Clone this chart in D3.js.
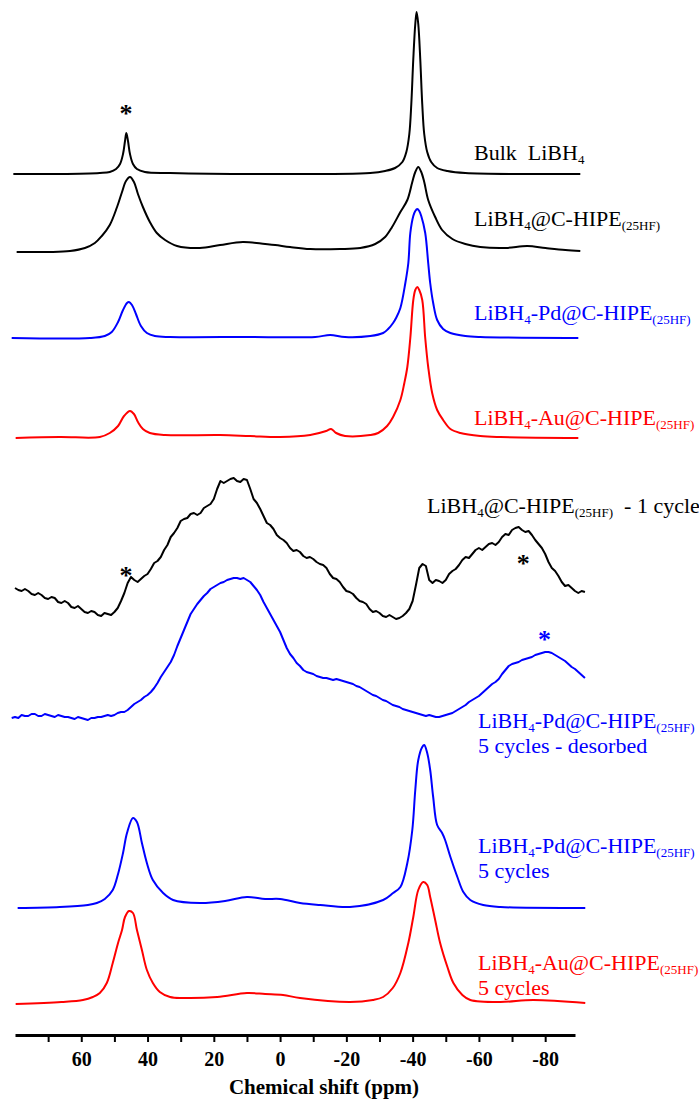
<!DOCTYPE html>
<html><head><meta charset="utf-8">
<script src="https://cdn.jsdelivr.net/npm/d3@7"></script>
<style>
body{margin:0;background:#fff}
svg text{font-family:'Liberation Serif','Times New Roman',Tinos,'DejaVu Serif',serif;}
</style>
</head><body><svg id="c" width="699" height="1103"></svg>
<script>
// ppm, intensity (relative to each trace's baseline, arbitrary units)
const bulkLiBH4 = [[80.5,0],[66.5,0],[54.4,1],[51.4,2],[49.5,5],[48.3,10],[47.4,20],[46.8,33],[46.4,41],[45.9,33],[45.3,20],[44.4,10],[43.2,5],[40.8,2],[33.2,1],[6.0,0],[-27.2,1],[-31.7,3],[-34.7,6],[-36.9,12],[-38.1,22],[-39.0,40],[-39.6,70],[-40.2,115],[-40.8,150],[-41.2,162],[-41.7,150],[-42.3,115],[-42.9,70],[-43.5,40],[-44.4,22],[-45.6,12],[-47.4,6],[-50.5,3],[-55.9,1],[-90.6,0]];
const hipe = [[79.5,0],[69.5,0],[63.4,1],[58.9,4],[55.9,9],[53.8,16],[51.4,27],[49.2,45],[47.7,60],[46.5,71],[45.3,75],[44.1,70],[42.9,58],[41.4,45],[39.3,30],[37.2,19],[34.7,12],[31.1,6],[24.2,4],[18.1,7],[11.2,10],[4.5,8],[1.5,7],[-3.0,5],[-9.1,3],[-18.1,3],[-24.2,4],[-28.7,8],[-31.7,15],[-33.8,25],[-36.3,40],[-38.4,52],[-39.9,70],[-40.8,80],[-41.7,85],[-42.6,80],[-43.5,70],[-44.7,52],[-46.8,35],[-48.9,22],[-52.0,13],[-55.9,8],[-60.4,5],[-68.0,4],[-74.6,6],[-80.1,4],[-86.1,2],[-90.6,1]];
const pdHipe = [[81,0],[57.4,0],[52.9,2],[50.8,6],[48.9,16],[47.4,28],[46.2,35],[45.6,36],[44.7,33],[43.5,24],[42.0,12],[40.2,5],[37.8,2],[33.2,1],[9.1,1],[-10.6,1],[-15.1,3],[-19.6,1],[-27.2,2],[-31.1,5],[-32.6,9],[-34.1,15],[-35.0,20],[-36.3,30],[-37.8,55],[-38.7,75],[-39.3,105],[-40.2,122],[-40.8,127],[-41.4,129],[-42.0,127],[-42.6,122],[-43.8,105],[-44.7,75],[-45.3,55],[-46.2,35],[-47.4,18],[-49.2,9],[-51.4,5],[-55.9,2],[-60.4,1],[-90.0,0]];
const auHipe = [[79.8,0],[66.5,1],[54.4,1],[51.4,5],[48.9,12],[47.1,22],[45.3,27],[44.1,24],[42.9,16],[41.4,9],[39.3,5],[34.7,3],[18.1,3],[9.1,2],[0,1],[-9.1,3],[-13.9,7],[-15.4,9],[-16.9,5],[-19.6,2],[-27.2,3],[-29.6,5],[-32.3,12],[-34.1,21],[-36.3,38],[-37.5,55],[-38.4,71],[-39.3,100],[-40.2,138],[-40.8,148],[-41.4,151],[-42.0,148],[-42.9,138],[-43.8,100],[-44.7,71],[-45.9,45],[-47.4,28],[-49.2,18],[-51.4,9],[-54.4,5],[-60.4,2],[-66.5,1],[-90.0,0]];
const hipe1cycle = [[80,32],[79,30],[78,29],[77,31],[76,29],[75,26],[74,25],[73,27],[72,25],[71,22],[70,21],[69,23],[68,22],[67,18],[66,17],[65,19],[64,17],[63,13],[62,12],[61,14],[60,11],[59,8],[58,7],[57,9],[56,8],[55,5],[54,4],[53,7],[52,6],[51,5],[50,8],[49,12],[48,19],[47,27],[46,37],[45,43],[44,40],[43,38],[42,41],[41,44],[40,46],[39,51],[38,57],[37,59],[36,63],[35,70],[34,75],[33,83],[32,87],[31,92],[30,99],[29,101],[28,102],[27,106],[26,107],[25,105],[24,107],[23,112],[22,114],[21,116],[20,121],[19,131],[18,139],[17,137],[16,139],[15,141],[14,142],[13,139],[12,138],[11,141],[10,140],[9,131],[8,121],[7,117],[6,111],[5,104],[4,97],[3,95],[2,91],[1,85],[0,82],[-1,80],[-2,77],[-3,72],[-4,69],[-5,70],[-6,68],[-7,64],[-8,62],[-9,63],[-10,61],[-11,58],[-12,56],[-13,55],[-14,52],[-15,46],[-16,42],[-17,41],[-18,38],[-19,33],[-20,29],[-21,28],[-22,26],[-23,22],[-24,19],[-25,18],[-26,16],[-27,11],[-28,8],[-29,9],[-30,7],[-31,4],[-32,3],[-33,5],[-34,3],[-35,1],[-36,2],[-37,4],[-38,7],[-39,11],[-40,19],[-41,35],[-42,52],[-43,56],[-44,54],[-45,40],[-46,37],[-47,40],[-48,39],[-49,37],[-50,40],[-51,46],[-52,49],[-53,51],[-54,55],[-55,60],[-56,63],[-57,62],[-58,66],[-59,70],[-60,72],[-61,70],[-62,73],[-63,76],[-64,77],[-65,75],[-66,78],[-67,83],[-68,86],[-69,85],[-70,90],[-71,92],[-72,93],[-73,90],[-74,88],[-75,89],[-76,85],[-77,80],[-78,76],[-79,72],[-80,66],[-81,58],[-82,52],[-83,49],[-84,44],[-85,38],[-86,34],[-87,35],[-88,32],[-89,29],[-90,27],[-91,29],[-92,28]];
const pdDesorbed = [[81,2],[80,3],[79,2],[78,5],[77,4],[76,4],[75,6],[74,6],[73,4],[72,4],[71,6],[70,5],[69,4],[68,3],[67,5],[66,4],[65,3],[64,3],[63,2],[62,1],[61,3],[60,2],[59,1],[58,0],[57,2],[56,2],[55,3],[54,3],[53,4],[52,5],[51,4],[50,5],[49,7],[48,8],[47,8],[46,10],[45,13],[44,16],[43,18],[42,20],[41,23],[40,25],[39,28],[38,32],[37,37],[36,43],[35,48],[34,53],[33,58],[32,65],[31,74],[30,82],[29,90],[28,98],[27,106],[26,111],[25,116],[24,120],[23,124],[22,127],[21,131],[20,133],[19,135],[18,137],[17,138],[16,140],[15,141],[14,142],[13,142],[12,141],[11,142],[10,140],[9,138],[8,134],[7,130],[6,125],[5,118],[4,112],[3,106],[2,100],[1,94],[0,88],[-1,80],[-2,72],[-3,66],[-4,62],[-5,57],[-6,54],[-7,50],[-8,48],[-9,47],[-10,46],[-11,44],[-12,43],[-13,42],[-14,42],[-15,41],[-16,40],[-17,41],[-18,40],[-19,39],[-20,38],[-21,37],[-22,36],[-23,34],[-24,33],[-25,31],[-26,29],[-27,27],[-28,25],[-29,24],[-30,22],[-31,20],[-32,19],[-33,17],[-34,15],[-35,14],[-36,13],[-37,11],[-38,10],[-39,9],[-40,8],[-41,7],[-42,6],[-43,5],[-44,4],[-45,5],[-46,4],[-47,3],[-48,3],[-49,4],[-50,5],[-51,6],[-52,7],[-53,9],[-54,11],[-55,13],[-56,15],[-57,18],[-58,20],[-59,22],[-60,24],[-61,27],[-62,30],[-63,33],[-64,36],[-65,38],[-66,41],[-67,46],[-68,50],[-69,54],[-70,56],[-71,57],[-72,58],[-73,60],[-74,61],[-75,62],[-76,63],[-77,65],[-78,66],[-79,67],[-80,68],[-81,68],[-82,67],[-83,65],[-84,63],[-85,61],[-86,59],[-87,56],[-88,53],[-89,51],[-90,48],[-91,45],[-92,42]];
const pd5cycles = [[79.2,0],[66.5,1],[58.0,3],[55.3,5],[52.9,9],[50.5,18],[48.9,34],[47.4,55],[46.2,75],[44.4,90],[43.2,86],[41.7,65],[40.2,45],[38.4,28],[35.3,15],[32.3,8],[24.2,5],[16.6,7],[10,11],[4.5,9],[0,9],[-6,5],[-12.1,3],[-21.1,1],[-31.1,8],[-34.1,15],[-36.3,21],[-38.4,45],[-39.9,78],[-40.8,118],[-41.7,148],[-42.9,161],[-43.5,163],[-44.4,155],[-45.3,138],[-46.2,111],[-47.4,83],[-48.9,75],[-49.8,68],[-51.4,51],[-53.5,31],[-55.3,16],[-57.4,8],[-61.3,3],[-66.5,1],[-92.1,0]];
const au5cycles = [[79.8,-1],[66.0,1],[59.5,3],[56.5,6],[54.4,10],[52.3,20],[50.5,40],[48.9,60],[47.7,73],[46.8,86],[45.6,92],[44.4,90],[43.2,73],[41.7,53],[40.2,33],[38.4,20],[36.3,11],[33.2,6],[29.3,5],[19.0,6],[10.0,10],[4.5,9],[-0.9,8],[-6.0,5],[-21.1,1],[-28.0,3],[-31.1,6],[-34.0,15],[-36.3,30],[-38.7,60],[-40.2,86],[-41.7,113],[-43.2,121],[-44.4,118],[-45.3,106],[-46.8,83],[-48.3,60],[-50.5,36],[-52.3,20],[-55.0,8],[-57.4,3],[-66.5,1],[-76.4,3],[-92.1,0]];

const seriesData = [bulkLiBH4, hipe, pdHipe, auHipe, hipe1cycle, pdDesorbed, pd5cycles, au5cycles];
const stackOffsets = [861, 783, 697, 597, 415, 315, 127, 32];
const seriesColors = ['#000000','#000000','#0000ff','#ff0000','#000000','#0000ff','#0000ff','#ff0000'];
const noisy = [false,false,false,false,true,true,false,false];

// labels: segments [text, isSub]
const labelLines = [
  [[['Bulk\u00a0\u00a0LiBH',0],['4',1]]],
  [[['LiBH',0],['4',1],['@C-HIPE',0],['(25HF)',1]]],
  [[['LiBH',0],['4',1],['-Pd@C-HIPE',0],['(25HF)',1]]],
  [[['LiBH',0],['4',1],['-Au@C-HIPE',0],['(25HF)',1]]],
  [[['LiBH',0],['4',1],['@C-HIPE',0],['(25HF)',1],['\u00a0\u00a0- 1 cycle',0]]],
  [[['LiBH',0],['4',1],['-Pd@C-HIPE',0],['(25HF)',1]],[['5 cycles - desorbed',0]]],
  [[['LiBH',0],['4',1],['-Pd@C-HIPE',0],['(25HF)',1]],[['5 cycles',0]]],
  [[['LiBH',0],['4',1],['-Au@C-HIPE',0],['(25HF)',1]],[['5 cycles',0]]]
];
const labelPos = [[474,160],[474,226],[474,320],[474,425],[427,513],[478,728],[478,853],[478,970]];
// sideband markers: [ppm, level above trace baseline, series index]
const starMarks = [[46.5,66,0],[46.5,50,4],[-73.4,62,4],[-79.8,86,5]];
const xTicks = [70,60,50,40,30,20,10,0,-10,-20,-30,-40,-50,-60,-70,-80];

const svg = d3.select('#c');
const x = d3.scaleLinear().domain([80,-89]).range([15,575]);
const y = d3.scaleLinear().domain([0,1035]).range([1035,0]);

seriesData.forEach((d,i) => {
  const line = d3.line()
    .x(p => x(p[0]))
    .y(p => y(stackOffsets[i] + p[1]))
    .curve(noisy[i] ? d3.curveLinear : d3.curveCatmullRom.alpha(0.5));
  svg.append('path').datum(d)
    .attr('d', line)
    .attr('fill','none')
    .attr('stroke', seriesColors[i])
    .attr('stroke-width', 2)
    .attr('stroke-linejoin','round');
});

// stars
starMarks.forEach(s => {
  svg.append('text')
    .attr('x', x(s[0]))
    .attr('y', y(stackOffsets[s[2]] + s[1]) + 14)
    .attr('text-anchor','middle')
    .attr('font-weight','bold')
    .attr('font-size', 26)
    .attr('fill', seriesColors[s[2]])
    .text('*');
});

// labels
labelLines.forEach((lines,i) => {
  lines.forEach((segs,k) => {
    const t = svg.append('text')
      .attr('x', labelPos[i][0])
      .attr('y', labelPos[i][1] + k*25)
      .attr('font-size', 22)
      .attr('fill', seriesColors[i]);
    let prevSub = false;
    segs.forEach(sg => {
      const ts = t.append('tspan').text(sg[0]);
      if (sg[1]) { ts.attr('font-size', 13).attr('dy', prevSub ? 0 : 4); prevSub = true; }
      else { ts.attr('dy', prevSub ? -4 : 0); prevSub = false; }
    });
  });
});

// axis
const axis = d3.axisBottom(x).tickValues(xTicks)
  .tickFormat(d => d % 20 === 0 ? String(d) : '')
  .tickSize(7).tickSizeOuter(0);
const g = svg.append('g').attr('transform','translate(0,1035)').call(axis);
g.attr('font-family', null);
g.select('.domain').attr('stroke','#000').attr('stroke-width',3);
g.selectAll('.tick line').attr('stroke','#000').attr('stroke-width',2);
g.selectAll('.tick text').attr('y',31).attr('dy',0)
  .attr('font-weight','bold').attr('font-size',20).attr('fill','#000');

svg.append('text').attr('x',324).attr('y',1094).attr('text-anchor','middle')
  .attr('font-weight','bold').attr('font-size',21)
  .text('Chemical shift (ppm)');
</script></body></html>
